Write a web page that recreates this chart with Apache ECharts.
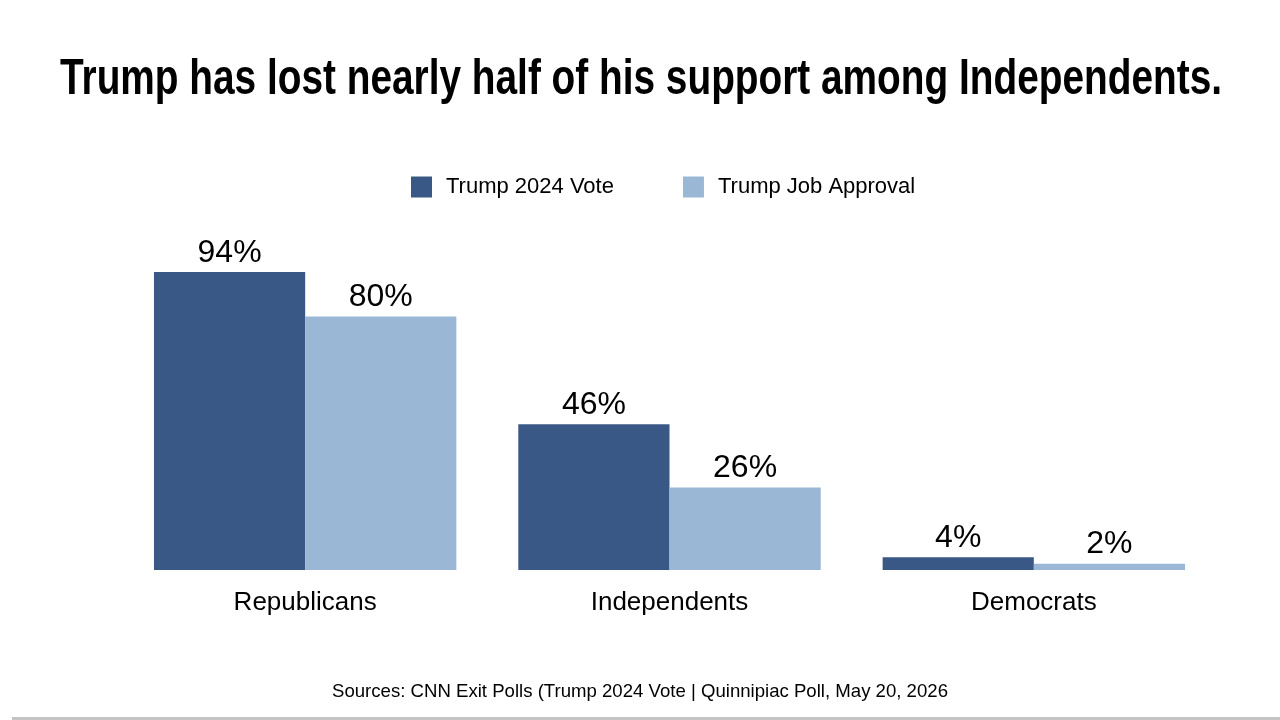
<!DOCTYPE html>
<html>
<head>
<meta charset="utf-8">
<script src="https://cdn.jsdelivr.net/npm/echarts@6/dist/echarts.min.js"></script>
<style>
html, body { margin: 0; padding: 0; background: #fff; }
#main { width: 1280px; height: 720px; }
</style>
</head>
<body>
<div id="main"></div>
<script>
var categories = ['Republicans', 'Independents', 'Democrats'];
var vote2024 = [94, 46, 4];
var jobApproval = [80, 26, 2];
var seriesNames = ['Trump 2024 Vote', 'Trump Job Approval'];

var titleText = 'Trump has lost nearly half of his support among Independents.';
var sourceText = 'Sources: CNN Exit Polls (Trump 2024 Vote | Quinnipiac Poll, May 20, 2026';

// the title font in the picture is a condensed bold, squeeze a regular bold to the same width
var titleFont = 'bold 50px "Liberation Sans"';
var ctx = document.createElement('canvas').getContext('2d');
ctx.font = titleFont;
var titleScale = 1162 / ctx.measureText(titleText).width;

var chart = echarts.init(document.getElementById('main'));

var labelStyle = {
    show: true,
    position: 'top',
    distance: 3,
    formatter: '{c}%',
    fontFamily: 'Liberation Sans, Arial, sans-serif',
    fontSize: 32,
    color: '#000'
};

var option = {
    backgroundColor: '#fff',
    animation: false,
    legend: {
        top: 171,
        left: 406,
        itemWidth: 21,
        itemHeight: 21,
        itemGap: 69,
        icon: 'rect',
        textStyle: {
            fontFamily: 'Liberation Sans, Arial, sans-serif',
            fontSize: 22,
            color: '#000',
            padding: [0, 0, 0, 9]
        },
        data: seriesNames
    },
    grid: {
        left: 123,
        right: 64,
        top: 253,
        bottom: 150
    },
    xAxis: {
        type: 'category',
        data: categories,
        axisLine: { show: false },
        axisTick: { show: false },
        axisLabel: {
            margin: 20,
            fontFamily: 'Liberation Sans, Arial, sans-serif',
            fontSize: 26,
            color: '#000'
        }
    },
    yAxis: {
        type: 'value',
        min: 0,
        max: 100,
        show: false,
        splitLine: { show: false }
    },
    series: [{
        name: seriesNames[0],
        type: 'bar',
        data: vote2024,
        barGap: '0%',
        barCategoryGap: '17%',
        itemStyle: { color: '#3A5886' },
        label: labelStyle
    }, {
        name: seriesNames[1],
        type: 'bar',
        data: jobApproval,
        itemStyle: { color: '#9AB7D6' },
        label: labelStyle
    }],
    graphic: [{
        type: 'text',
        x: 641,
        y: 80,
        scaleX: titleScale,
        style: {
            text: titleText,
            font: titleFont,
            fill: '#000',
            textAlign: 'center',
            textVerticalAlign: 'middle'
        }
    }, {
        type: 'text',
        x: 640,
        y: 692,
        style: {
            text: sourceText,
            fontFamily: 'Liberation Sans, Arial, sans-serif',
            fontSize: 18.6,
            fill: '#000',
            textAlign: 'center',
            textVerticalAlign: 'middle'
        }
    }, {
        type: 'rect',
        shape: { x: 12, y: 717, width: 1268, height: 3 },
        style: { fill: '#c4c4c4' }
    }]
};

chart.setOption(option);
</script>
</body>
</html>
